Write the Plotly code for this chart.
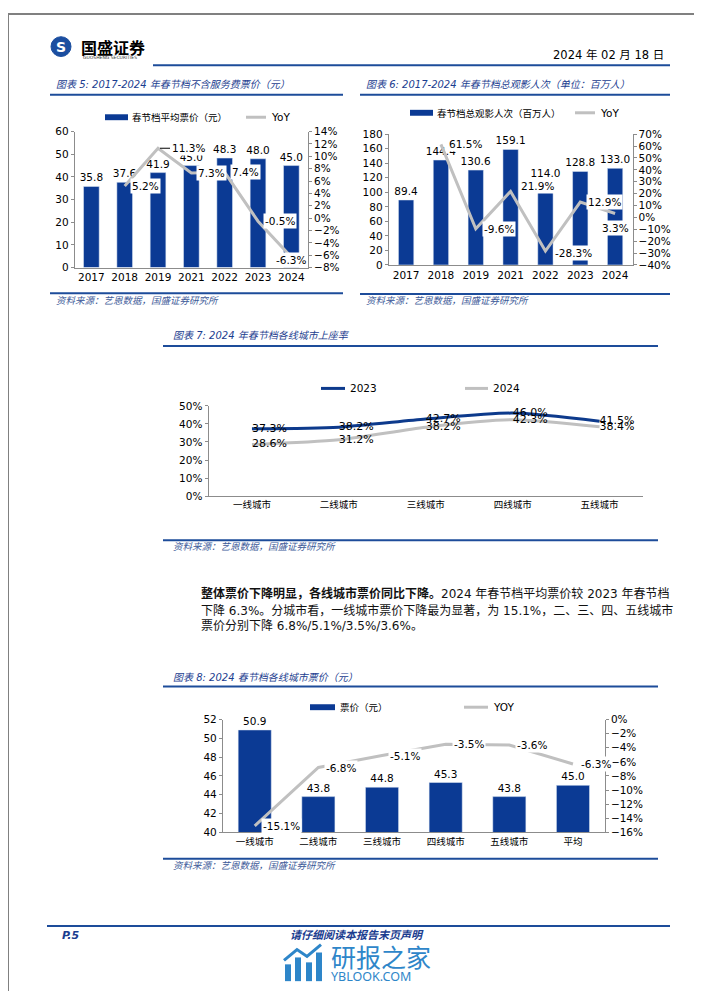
import plotly.graph_objects as go

# 数据
years = ['2017', '2018', '2019', '2021', '2022', '2023', '2024']
avg_price = [35.8, 37.6, 41.9, 45.0, 48.3, 48.0, 45.0]
avg_price_yoy = [None, 5.2, 11.3, 7.3, 7.4, -0.5, -6.3]
admissions = [89.4, 144.4, 130.6, 159.1, 114.0, 128.8, 133.0]
admissions_yoy = [None, 61.5, -9.6, 21.9, -28.3, 12.9, 3.3]

tiers = ['一线城市', '二线城市', '三线城市', '四线城市', '五线城市']
occupancy_2023 = [37.3, 38.2, 42.7, 46.0, 41.5]
occupancy_2024 = [28.6, 31.2, 38.2, 42.3, 38.4]

tier_price_cats = ['一线城市', '二线城市', '三线城市', '四线城市', '五线城市', '平均']
tier_price = [50.9, 43.8, 44.8, 45.3, 43.8, 45.0]
tier_price_yoy = [-15.1, -6.8, -5.1, -3.5, -3.6, -6.3]

W, H = 702, 991
BLUE = '#0b3a94'
GRAY = '#c0c0c0'
AX = '#8c8c8c'
RULE = '#1d4c9a'
TITLE_BLUE = '#1b3d8f'
SRC = '#3d5a98'
FONT = 'DejaVu Sans, Noto Sans CJK SC'
CJK = 'Noto Sans CJK SC'
WM = '#2e86c9'


def px(x):
    return x / W


def py(y):
    return 1 - y / H


fig = go.Figure()

# 图表5
fig.add_trace(go.Bar(x=years, y=avg_price, xaxis='x', yaxis='y', width=0.47,
                     marker_color=BLUE, text=[f'{v:.1f}' for v in avg_price],
                     textposition='outside', cliponaxis=False, constraintext='none',
                     textfont=dict(size=10.5, color='#000', family=FONT)))
fig.add_trace(go.Scatter(x=years[1:], y=avg_price_yoy[1:], xaxis='x', yaxis='y2',
                         mode='lines', line=dict(color=GRAY, width=3)))

# 图表6
fig.add_trace(go.Bar(x=years, y=admissions, xaxis='x2', yaxis='y3', width=0.44,
                     marker_color=BLUE, text=[f'{v:.1f}' for v in admissions],
                     textposition='outside', cliponaxis=False, constraintext='none',
                     textfont=dict(size=10.5, color='#000', family=FONT)))
fig.add_trace(go.Scatter(x=years[1:], y=admissions_yoy[1:], xaxis='x2', yaxis='y4',
                         mode='lines', line=dict(color=GRAY, width=3)))

# 图表7
fig.add_trace(go.Scatter(x=tiers, y=occupancy_2023, xaxis='x3', yaxis='y5',
                         mode='lines+text', line=dict(color='#0d3a8c', width=3, shape='spline', smoothing=0.7),
                         text=[f'{v:.1f}%' for v in occupancy_2023], textposition='middle right',
                         textfont=dict(size=11, color='#000', family=FONT), cliponaxis=False))
fig.add_trace(go.Scatter(x=tiers, y=occupancy_2024, xaxis='x3', yaxis='y5',
                         mode='lines+text', line=dict(color=GRAY, width=3, shape='spline', smoothing=0.7),
                         text=[f'{v:.1f}%' for v in occupancy_2024], textposition='middle right',
                         textfont=dict(size=11, color='#000', family=FONT), cliponaxis=False))

# 图表8
fig.add_trace(go.Bar(x=tier_price_cats, y=tier_price, xaxis='x4', yaxis='y6', width=0.52,
                     marker_color=BLUE, text=[f'{v:.1f}' for v in tier_price],
                     textposition='outside', cliponaxis=False, constraintext='none',
                     textfont=dict(size=10.5, color='#000', family=FONT)))
fig.add_trace(go.Scatter(x=tier_price_cats, y=tier_price_yoy, xaxis='x4', yaxis='y7',
                         mode='lines', line=dict(color=GRAY, width=3)))


def xax(x0, x1, anchor, n, size=10.5):
    return dict(domain=[px(x0), px(x1)], anchor=anchor, type='category',
                range=[-0.5, n - 0.5],
                showline=True, linecolor=AX, linewidth=1, ticks='', showgrid=False,
                zeroline=False, tickfont=dict(size=size, color='#000', family=FONT))


def yax(y0, y1, anchor, rng, dtick, suffix='', side='left', overlay=None):
    d = dict(range=rng, dtick=dtick, ticksuffix=suffix, side=side, anchor=anchor,
             showline=True, linecolor=AX, linewidth=1, ticks='outside', ticklen=3,
             tickcolor=AX, showgrid=False, zeroline=False,
             tickfont=dict(size=10.5, color='#000', family=FONT))
    if overlay:
        d['overlaying'] = overlay
    else:
        d['domain'] = [py(y0), py(y1)]
    return d


fig.update_layout(
    width=W, height=H, margin=dict(l=0, r=0, t=0, b=0),
    paper_bgcolor='white', plot_bgcolor='rgba(0,0,0,0)', showlegend=False,
    font=dict(family=FONT, color='#000'),
    xaxis=xax(66.7, 300, 'y', len(years)),
    yaxis=yax(256.7, 119, 'x', [0, 60], 10),
    yaxis2=yax(0, 0, 'x', [-8, 14], 2, '%', 'right', 'y'),
    xaxis2=xax(380.7, 624.5, 'y3', len(years)),
    yaxis3=yax(254, 121.7, 'x2', [0, 180], 20),
    yaxis4=yax(0, 0, 'x2', [-40, 70], 10, '%', 'right', 'y3'),
    xaxis3=xax(200.5, 635, 'y5', len(tiers), size=9.5),
    yaxis5=yax(488, 396.7, 'x3', [0, 50], 10, '%'),
    xaxis4=xax(214.9, 596.8, 'y6', len(tier_price_cats), size=9.5),
    yaxis6=yax(828.3, 714.3, 'x4', [40, 52], 2),
    yaxis7=yax(0, 0, 'x4', [-16, 0], 2, '%', 'right', 'y6'),
)

ann = []
shapes = []


def text(x, y, s, size, color='#000', family=FONT, anchor='left', **kw):
    ann.append(dict(x=px(x), y=py(y), xref='paper', yref='paper', text=s, showarrow=False,
                    xanchor=anchor, yanchor='middle',
                    font=dict(size=size, color=color, family=family), **kw))


def hline(x0, x1, y, color=RULE, width=2):
    shapes.append(dict(type='line', xref='paper', yref='paper', x0=px(x0), x1=px(x1),
                       y0=py(y), y1=py(y), line=dict(color=color, width=width)))


def swatch_bar(x0, x1, y):
    shapes.append(dict(type='rect', xref='paper', yref='paper', x0=px(x0), x1=px(x1),
                       y0=py(y + 3), y1=py(y - 3), fillcolor=BLUE, line=dict(width=0)))


def swatch_line(x0, x1, y, color):
    hline(x0, x1, y, color=color, width=3)


# 页眉
shapes.append(dict(type='rect', xref='paper', yref='paper', x0=0, x1=1, y0=0, y1=1,
                   line=dict(color='#808080', width=2)))
shapes.append(dict(type='circle', xref='paper', yref='paper', x0=px(43), x1=px(63),
                   y0=py(43), y1=py(23), fillcolor='#1b4ea0', line=dict(color='#1b4ea0', width=1)))
text(53, 33, '<b>S</b>', 14, color='white', anchor='center')
text(71, 33, '<b>国盛证券</b>', 16, family=CJK)
text(73, 44.5, 'GUOSHENG SECURITIES', 4.5, color='#333')
text(658, 41, '2024 年 02 月 18 日', 11.5, anchor='right')
hline(145, 662, 52)

# 图表5
text(46, 71, '<i>图表 5: 2017-2024 年春节档不含服务费票价（元）</i>', 10, color=TITLE_BLUE)
hline(42, 335, 81.7)
swatch_bar(97, 120, 104.5)
text(122, 104.5, '春节档平均票价（元）', 9.5, family=CJK)
swatch_line(238, 258, 104.5, GRAY)
text(261, 104.5, 'YoY', 10.5)
hline(42, 335, 282.7)
text(46, 290.5, '<i>资料来源：艺恩数据，国盛证券研究所</i>', 9.5, color=SRC)

for i, v in enumerate(avg_price_yoy):
    if v is None:
        continue
    a = dict(x=i, y=v, xref='x', yref='y2', text=f'{v:.1f}%', showarrow=False,
             xanchor='left', xshift=5, bgcolor='white', borderpad=1,
             font=dict(size=10.5, color='#000', family=FONT))
    if i == 2:
        a.update(showarrow=True, arrowhead=0, arrowwidth=1, arrowcolor='#000', ax=30, ay=0,
                 standoff=2, xanchor='center', xshift=0)
    if i == len(avg_price_yoy) - 1:
        a.update(xanchor='center', xshift=0, yshift=-3)
    ann.append(a)

# 图表6
text(356, 71, '<i>图表 6: 2017-2024 年春节档总观影人次（单位：百万人）</i>', 10, color=TITLE_BLUE)
hline(352, 662, 81.7)
swatch_bar(402, 425, 100)
text(427, 100, '春节档总观影人次（百万人）', 9.5, family=CJK)
swatch_line(567, 587, 100, GRAY)
text(590, 100, 'YoY', 10.5)
hline(352, 662, 283.5)
text(356, 290.5, '<i>资料来源：艺恩数据，国盛证券研究所</i>', 9.5, color=SRC)

for i, v in enumerate(admissions_yoy):
    if v is None:
        continue
    a = dict(x=i, y=v, xref='x2', yref='y4', text=f'{v:.1f}%', showarrow=False,
             xanchor='left', xshift=6, bgcolor='white', borderpad=1,
             font=dict(size=10.5, color='#000', family=FONT))
    if i == 3:
        a.update(yshift=5, xshift=8)
    if i == 4:
        a.update(xshift=8, yshift=-2)
    if i == len(admissions_yoy) - 1:
        a.update(xanchor='center', xshift=0, yshift=-15)
    ann.append(a)

# 图表7
text(163, 325.7, '<i>图表 7: 2024 年春节档各线城市上座率</i>', 10, color=TITLE_BLUE)
hline(155, 650, 336)
swatch_line(313, 337, 379, '#0d3a8c')
text(340, 379, '2023', 10.5)
swatch_line(457, 480, 379, GRAY)
text(483, 379, '2024', 10.5)
hline(155, 650, 532.7)
text(163, 539.5, '<i>资料来源：艺恩数据，国盛证券研究所</i>', 9.5, color=SRC)

# 正文
text(191, 587, '<b>整体票价下降明显，各线城市票价同比下降。</b>2024 年春节档平均票价较 2023 年春节档', 12, color='#111')
text(191, 603.5, '下降 6.3%。分城市看，一线城市票价下降最为显著，为 15.1%，二、三、四、五线城市', 12, color='#111')
text(191, 620, '票价分别下降 6.8%/5.1%/3.5%/3.6%。', 12, color='#111')

# 图表8
text(163, 671.7, '<i>图表 8: 2024 春节档各线城市票价（元）</i>', 10, color=TITLE_BLUE)
hline(155, 650, 680.7)
swatch_bar(302, 327, 701.7)
text(330, 701.7, '票价（元）', 9.5, family=CJK)
swatch_line(456, 480, 701.7, GRAY)
text(483, 701.7, 'YOY', 10.5)
hline(155, 650, 855)
text(163, 862, '<i>资料来源：艺恩数据，国盛证券研究所</i>', 9.5, color=SRC)

for i, v in enumerate(tier_price_yoy):
    ann.append(dict(x=i, y=v, xref='x4', yref='y7', text=f'{v:.1f}%',
                    showarrow=False, xanchor='left', xshift=6, bgcolor='white', borderpad=1,
                    font=dict(size=10.5, color='#000', family=FONT)))

# 页脚
hline(39, 662, 923.3)
text(52, 932.7, '<b><i>P.5</i></b>', 11, color='#1b3d8f')
text(349, 931, '<b><i>请仔细阅读本报告末页声明</i></b>', 11, color='#1b3d8f', family=CJK, anchor='center')

# 水印
for bx0, bx1, top in [(277, 283, 962), (287, 293, 955), (298, 304, 960), (308, 314, 950)]:
    shapes.append(dict(type='rect', xref='paper', yref='paper', x0=px(bx0), x1=px(bx1),
                       y0=py(979), y1=py(top), fillcolor=WM, line=dict(width=0)))
shapes.append(dict(type='path', xref='paper', yref='paper',
                   path=f'M {px(276)} {py(958)} L {px(289)} {py(947)} L {px(299)} {py(954)} L {px(313)} {py(942)}',
                   line=dict(color=WM, width=3)))
text(321, 954, '研报之家', 25, color=WM, family=CJK)
text(321, 974, 'YBLOOK.COM', 12.5, color=WM, family='Noto Sans')

fig.update_layout(annotations=ann, shapes=shapes)

fig.write_html('out.html')
